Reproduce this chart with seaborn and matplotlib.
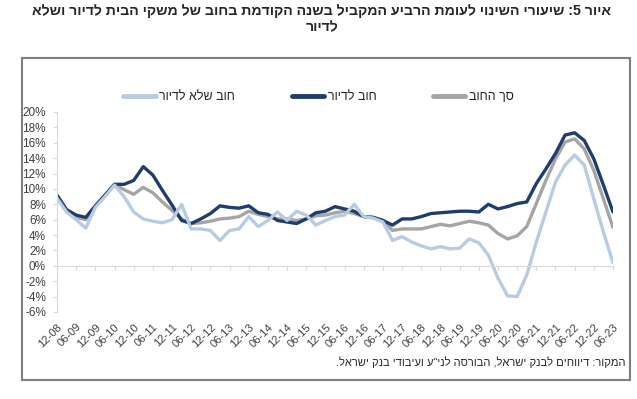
import numpy as np
import pandas as pd
import matplotlib
matplotlib.use('Agg')
import matplotlib.pyplot as plt
import seaborn as sns
from matplotlib.lines import Line2D
from matplotlib.patches import Rectangle

# --- נתונים (רבעוני, 12-08 עד 06-23) ---
total_debt = [9.0, 7.1, 6.3, 6.0, 7.7, 9.1, 10.6, 9.9, 9.3, 10.2,
              9.5, 8.3, 7.2, 6.1, 5.5, 5.6, 5.8, 6.1, 6.2, 6.4,
              7.1, 6.7, 6.4, 6.1, 6.1, 5.9, 6.1, 6.5, 6.6, 6.9,
              7.1, 6.8, 6.4, 6.3, 5.9, 4.6, 4.8, 4.8, 4.8, 5.1,
              5.4, 5.2, 5.5, 5.8, 5.6, 5.3, 4.2, 3.5, 3.9, 5.1,
              8.1, 11.1, 13.9, 16.1, 16.5, 15.2, 12.4, 8.7, 5.0]

housing_debt = [9.2, 7.3, 6.6, 6.3, 7.8, 9.2, 10.6, 10.6, 11.1, 12.9,
                11.8, 9.8, 7.9, 5.9, 5.5, 6.1, 6.8, 7.8, 7.6, 7.5,
                7.8, 6.9, 6.7, 5.9, 5.7, 5.5, 6.1, 6.9, 7.1, 7.7,
                7.4, 7.1, 6.4, 6.3, 5.9, 5.3, 6.1, 6.1, 6.4, 6.8,
                6.9, 7.0, 7.1, 7.1, 7.0, 8.0, 7.4, 7.7, 8.1, 8.3,
                10.7, 12.6, 14.6, 17.0, 17.3, 16.3, 13.9, 10.5, 7.0]

non_housing_debt = [8.8, 7.0, 6.0, 4.9, 7.6, 9.0, 10.5, 9.0, 7.0, 6.1,
                    5.8, 5.6, 6.0, 8.0, 4.8, 4.8, 4.6, 3.3, 4.6, 4.8,
                    6.4, 5.1, 5.9, 7.0, 5.9, 7.1, 6.6, 5.3, 5.9, 6.4,
                    6.6, 8.0, 6.4, 6.2, 5.7, 3.3, 3.8, 3.1, 2.6, 2.2,
                    2.5, 2.2, 2.3, 3.5, 3.0, 1.4, -1.6, -3.9, -4.0, -1.2,
                    3.1, 7.0, 10.9, 13.1, 14.4, 13.1, 8.7, 4.4, 0.4]

tick_labels = ['12-08', '06-09', '12-09', '06-10', '12-10', '06-11', '12-11', '06-12',
               '12-12', '06-13', '12-13', '06-14', '12-14', '06-15', '12-15', '06-16',
               '12-16', '06-17', '12-17', '06-18', '12-18', '06-19', '12-19', '06-20',
               '12-20', '06-21', '12-21', '06-22', '12-22', '06-23']

series_names = ['סך החוב', 'חוב לדיור', 'חוב שלא לדיור']
title = 'איור 5: שיעורי השינוי לעומת הרביע המקביל בשנה הקודמת בחוב של משקי הבית לדיור ושלא\nלדיור'
source = 'המקור: דיווחים לבנק ישראל, הבורסה לני"ע ועיבודי בנק ישראל.'

colors = {'סך החוב': '#a5a5a5', 'חוב לדיור': '#1f3d6b', 'חוב שלא לדיור': '#b7cbe2'}


def rtl(s):
    # matplotlib לא מבצע bidi - הופכים את סדר התווים בכל שורה
    return '\n'.join(line[::-1] for line in s.split('\n'))


df = pd.DataFrame({
    'q': np.arange(len(total_debt)),
    'סך החוב': total_debt,
    'חוב לדיור': housing_debt,
    'חוב שלא לדיור': non_housing_debt,
})

sns.set_style('white')
plt.rcParams['font.family'] = ['Liberation Sans', 'DejaVu Sans']

fig = plt.figure(figsize=(6.37, 3.99), dpi=100)
ax = fig.add_axes([57 / 637, 87 / 399, 556 / 637, 200 / 399])

for name in series_names:
    sns.lineplot(data=df, x='q', y=name, color=colors[name], linewidth=2.4, ax=ax)

ax.set_xlim(0, len(total_debt) - 1)
ax.set_ylim(-6, 20)
ax.set_yticks(range(-6, 21, 2))
ax.set_yticklabels([f'{v}%' for v in range(-6, 21, 2)])
ax.set_xlabel('')
ax.set_ylabel('')

# ציר הקטגוריות חוצה ב-0
grid_c = '#d9d9d9'
for s in ['top', 'right']:
    ax.spines[s].set_visible(False)
ax.spines['bottom'].set_position(('data', 0))
ax.spines['bottom'].set_color(grid_c)
ax.spines['left'].set_color(grid_c)
tick_pos = np.arange(0, len(total_debt), 2)
ax.set_xticks(tick_pos)
ax.tick_params(axis='x', bottom=True, labelbottom=False, length=3, color=grid_c, direction='out')
ax.tick_params(axis='y', left=True, length=3, color=grid_c, labelsize=8.5, labelcolor='#404040', pad=5)

sec = ax.secondary_xaxis('bottom')
sec.set_xticks(tick_pos, labels=tick_labels)
sec.spines['bottom'].set_visible(False)
sec.tick_params(length=0, labelsize=8, labelcolor='#404040', pad=7)
for lab in sec.get_xticklabels():
    lab.set_rotation(45)
    lab.set_ha('right')
    lab.set_rotation_mode('anchor')

# מקרא
order = ['חוב שלא לדיור', 'חוב לדיור', 'סך החוב']
handles = [Line2D([], [], color=colors[n], linewidth=3.5) for n in order]
fig.legend(handles, [rtl(n) for n in order], loc='center', bbox_to_anchor=(0.5, 1 - 97 / 399),
           ncol=3, frameon=False, fontsize=9, handlelength=2.6, handletextpad=0.3,
           columnspacing=4.5, labelcolor='#262626')

fig.text(0.505, 1 - 4 / 399, rtl(title), ha='center', va='top', fontsize=10.2,
         fontweight='bold', linespacing=1.2)
fig.text(625 / 637, 1 - 362 / 399, rtl(source), ha='right', va='center', fontsize=8,
         color='#262626')

fig.add_artist(Rectangle((22 / 637, 19 / 399), 608 / 637, 322 / 399, transform=fig.transFigure,
                         fill=False, edgecolor='#7f7f7f', linewidth=1.5))

fig.savefig('out.png', dpi=100, facecolor='white')
